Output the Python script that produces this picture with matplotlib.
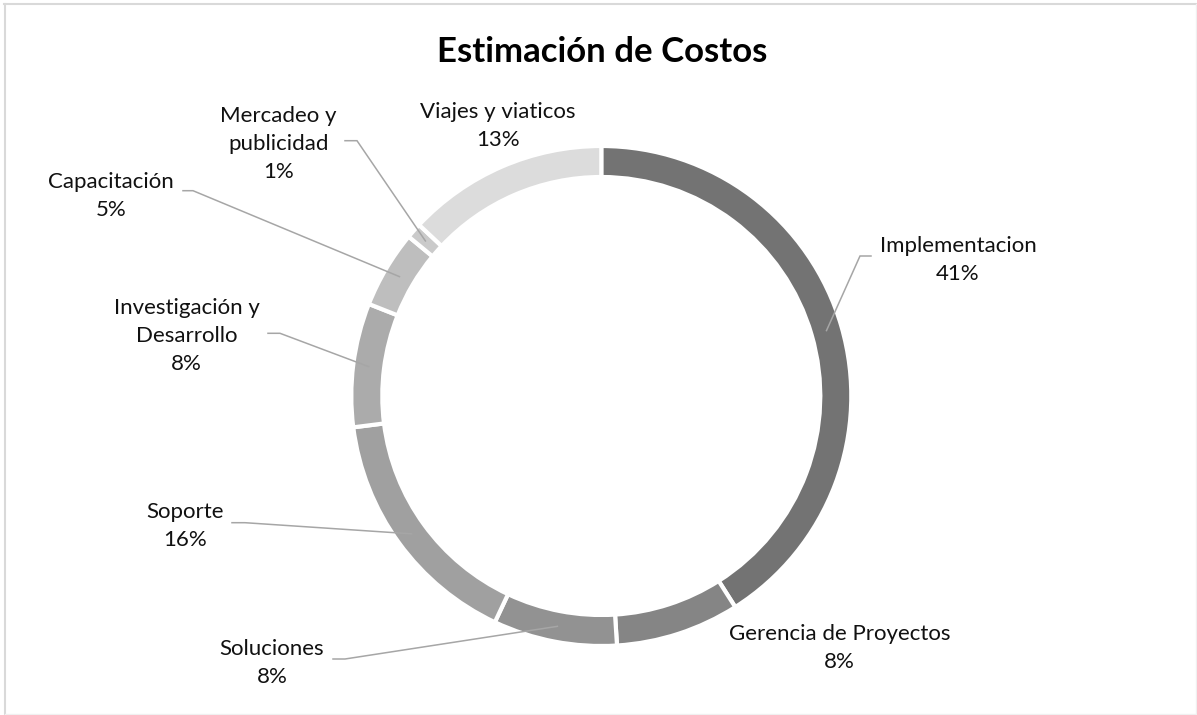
import numpy as np
import matplotlib.pyplot as plt

# data
categorias = ["Implementacion", "Gerencia de Proyectos", "Soluciones", "Soporte",
              "Investigación y\nDesarrollo", "Capacitación", "Mercadeo y\npublicidad",
              "Viajes y viaticos"]
porcentajes = [41, 8, 8, 16, 8, 5, 1, 13]
colores = ["#737373", "#858585", "#929292", "#a0a0a0",
           "#ababab", "#bebebe", "#cacaca", "#dcdcdc"]

# label layout in image pixels (x centre, first baseline, leader elbow or None)
etiquetas = {
    "Implementacion": (958, 250.7, (871, 860, 256)),
    "Gerencia de Proyectos": (839.5, 639.3, None),
    "Soluciones": (272, 654, (333, 345, 659)),
    "Soporte": (184.6, 516.7, (232, 245, 522.7)),
    "Investigación y\nDesarrollo": (186.7, 312.7, (268, 280, 333.3)),
    "Capacitación": (111, 186.7, (183, 193, 190.7)),
    "Mercadeo y\npublicidad": (278.5, 120.7, (345, 357, 140.7)),
    "Viajes y viaticos": (498, 117.3, None),
}
paso = 28.8  # line step in px

W, H = 1197, 715
cx, cy = 601.3, 396.0   # image coords
R, ancho = 248, 27

plt.rcParams['font.family'] = ['Lato', 'DejaVu Sans']

fig = plt.figure(figsize=(W / 100, H / 100), dpi=100)
ax = fig.add_axes([0, 0, 1, 1])

ax.pie(porcentajes, colors=colores, startangle=90, counterclock=False,
       center=(cx, H - cy), radius=R + 2,
       wedgeprops=dict(width=ancho + 4, edgecolor="white", linewidth=3))
ax.set_xlim(0, W)
ax.set_ylim(0, H)
ax.set_aspect('auto')
ax.axis('off')

# border
ax.plot([4, W], [H - 4, H - 4], color="#d9d9d9", lw=1.5)
ax.plot([5, 5], [0, H - 4], color="#d9d9d9", lw=1.5)
ax.plot([W - 1.5, W - 1.5], [0, H - 4], color="#f0f0f0", lw=1)
ax.plot([5, W], [1.5, 1.5], color="#f0f0f0", lw=1)

ax.text(602, H - 62.3, "Estimación de Costos", ha="center", va="baseline",
        fontsize=25, fontweight="bold", color="black")

acum = 0
for cat, pct in zip(categorias, porcentajes):
    medio = acum + pct / 2
    acum += pct
    ang = np.deg2rad(90 - 360 * medio / 100)
    rr = R - ancho / 2
    px = cx + rr * np.cos(ang)
    py = cy - rr * np.sin(ang)
    tx, ty, lider = etiquetas[cat]
    texto = f"{cat}\n{pct}%"
    n = texto.count("\n")
    # matplotlib puts the last line on the baseline
    ax.text(tx, H - (ty + n * paso), texto, ha="center", va="baseline",
            fontsize=16, color="#111111", linespacing=1.5,
            multialignment="center")
    if lider is not None:
        x0, x1, ly = lider
        ax.plot([x0, x1, px], [H - ly, H - ly, H - py], color="#a6a6a6", lw=1.1,
                solid_joinstyle="miter")

fig.savefig("out.png", dpi=100)
